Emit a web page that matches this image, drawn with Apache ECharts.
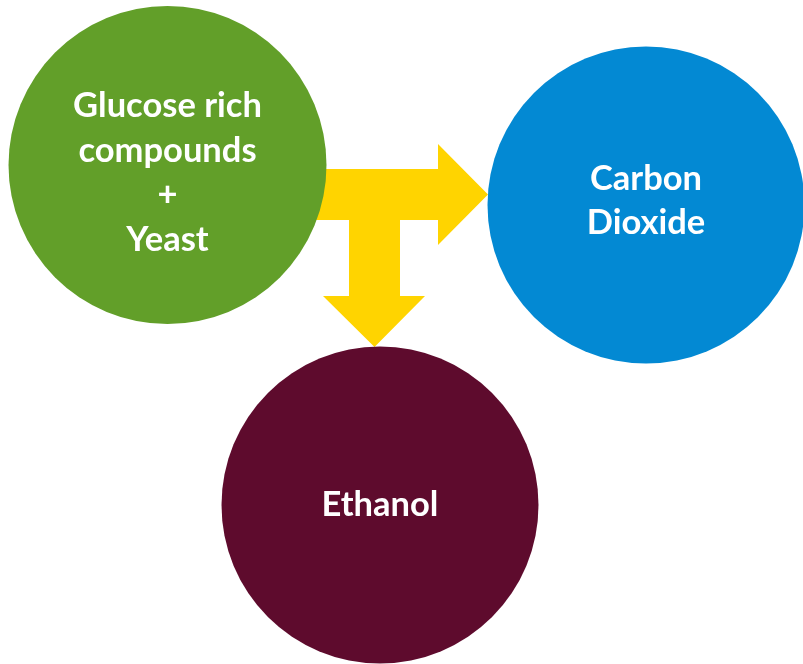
<!DOCTYPE html>
<html>
<head>
<meta charset="utf-8">
<script src="https://cdn.jsdelivr.net/npm/echarts@6/dist/echarts.min.js"></script>
<style>html,body{margin:0;padding:0;background:#fff}#c{width:803px;height:664px}</style>
</head>
<body>
<div id="c"></div>
<script>
// Nodes of the diagram
const nodeLabels = ['Glucose rich\ncompounds\n+\nYeast', 'Carbon\nDioxide', 'Ethanol'];
const nodeColors = ['#629F29', '#0389D3', '#5E0B2D'];
// Layout (pixel-like coordinate space 803 x 664)
const nodeX = [167.5, 646, 380];
const nodeY = [165, 205, 505];
const nodeDiameter = [318, 317, 317];
const labelOffsetY = [8, -4, 0];
// T-shaped arrow outline (layout coordinates)
const arrowX = [300, 438, 438, 488, 438, 438, 400, 400, 425, 374.5, 323, 349, 349, 300];
const arrowY = [169, 169, 144, 194.5, 245, 220, 220, 296, 296, 347, 296, 296, 220, 220];

const chart = echarts.init(document.getElementById('c'), null, {renderer: 'canvas'});
chart.setOption({
  animation: false,
  backgroundColor: '#ffffff',
  grid: {left: 0, right: 0, top: 0, bottom: 0},
  xAxis: {type: 'value', min: 0, max: 803, show: false},
  yAxis: {type: 'value', min: 0, max: 664, inverse: true, show: false},
  series: [
    {
      type: 'custom',
      z: 1,
      data: [[0, 0]],
      renderItem: function (params, api) {
        const pts = arrowX.map(function (x, i) { return api.coord([x, arrowY[i]]); });
        return {type: 'polygon', shape: {points: pts}, style: {fill: '#FFD400'}};
      }
    },
    {
      type: 'scatter',
      z: 2,
      symbol: 'circle',
      itemStyle: {opacity: 1},
      data: nodeLabels.map(function (n, i) {
        return {
          name: n,
          value: [nodeX[i], nodeY[i]],
          symbolSize: nodeDiameter[i],
          itemStyle: {color: nodeColors[i], opacity: 1},
          label: {offset: [0, labelOffsetY[i]]}
        };
      }),
      label: {
        show: true,
        position: 'inside',
        formatter: '{b}',
        color: '#ffffff',
        opacity: 1,
        fontFamily: 'Lato',
        fontWeight: 'bold',
        fontSize: 34.5,
        lineHeight: 44.5,
        align: 'center'
      },
      emphasis: {disabled: true}
    }
  ]
});
</script>
</body>
</html>
